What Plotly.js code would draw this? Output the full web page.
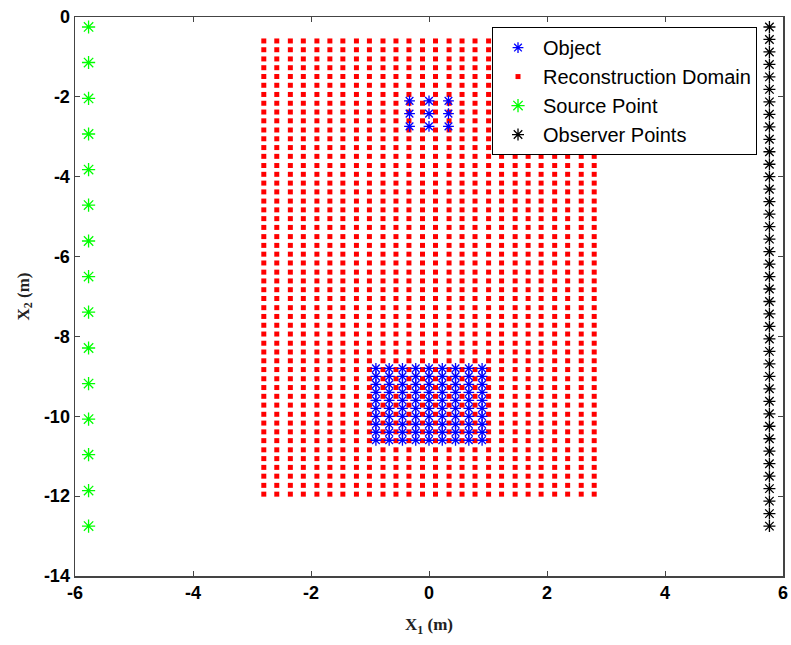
<!DOCTYPE html>
<html>
<head>
<meta charset="utf-8">
<script src="https://cdn.plot.ly/plotly-3.0.1.min.js"></script>
<style>html,body{margin:0;padding:0;background:#fff;}#chart{width:791px;height:645px;}</style>
</head>
<body>
<div id="chart"></div>
<script>
// Reconstruction domain grid (x columns, y rows)
const domainX = [-2.8, -2.58, -2.35, -2.13, -1.9, -1.68, -1.46, -1.23, -1.01, -0.78, -0.56, -0.34, -0.11,
                 0.11, 0.34, 0.56, 0.78, 1.01, 1.23, 1.46, 1.68, 1.9, 2.13, 2.35, 2.58, 2.8];
const domainY = [-0.6, -0.82, -1.05, -1.27, -1.49, -1.71, -1.94, -2.16, -2.38, -2.6, -2.83, -3.05, -3.27,
                 -3.49, -3.72, -3.94, -4.16, -4.38, -4.61, -4.83, -5.05, -5.27, -5.5, -5.72, -5.94, -6.16,
                 -6.39, -6.61, -6.83, -7.05, -7.28, -7.5, -7.72, -7.94, -8.17, -8.39, -8.61, -8.83, -9.06,
                 -9.28, -9.5, -9.72, -9.95, -10.17, -10.39, -10.61, -10.84, -11.06, -11.28, -11.5, -11.73, -11.95];
// Objects: small upper cluster and large lower cluster
const objSmallX = [-0.33, 0, 0.33];
const objSmallY = [-2.1, -2.42, -2.74];
const objLargeX = [-0.9, -0.675, -0.45, -0.225, 0, 0.225, 0.45, 0.675, 0.9];
const objLargeY = [-8.8, -9.0, -9.2, -9.4, -9.6, -9.8, -10.0, -10.2, -10.4, -10.6];
// Source points
const sourceX = -5.77;
const sourceY = [-0.25, -1.14, -2.04, -2.93, -3.82, -4.71, -5.61, -6.5, -7.39, -8.29, -9.18, -10.07, -10.96, -11.86, -12.75];
// Observer points
const observerX = 5.77;
const observerY = [-0.25, -0.5625, -0.875, -1.1875, -1.5, -1.8125, -2.125, -2.4375, -2.75, -3.0625, -3.375,
                   -3.6875, -4, -4.3125, -4.625, -4.9375, -5.25, -5.5625, -5.875, -6.1875, -6.5, -6.8125,
                   -7.125, -7.4375, -7.75, -8.0625, -8.375, -8.6875, -9, -9.3125, -9.625, -9.9375, -10.25,
                   -10.5625, -10.875, -11.1875, -11.5, -11.8125, -12.125, -12.4375, -12.75];
const xTicks = [-6, -4, -2, 0, 2, 4, 6];
const yTicks = [0, -2, -4, -6, -8, -10, -12, -14];

function mesh(xs, ys) {
  const px = [], py = [];
  ys.forEach(y => xs.forEach(x => { px.push(x); py.push(y); }));
  return {x: px, y: py};
}
const dom = mesh(domainX, domainY);
const o1 = mesh(objSmallX, objSmallY);
const o2 = mesh(objLargeX, objLargeY);

const traces = [
  {x: dom.x, y: dom.y, mode: 'markers', type: 'scatter', name: 'Reconstruction Domain', legendrank: 2,
   marker: {symbol: 'square', size: 5, color: '#ff0000'}},
  {x: o1.x.concat(o2.x), y: o1.y.concat(o2.y), mode: 'markers', type: 'scatter', name: 'Object', legendrank: 1,
   marker: {symbol: 'asterisk-open', size: 9, color: '#0000ff', line: {color: '#0000ff', width: 1.3}}},
  {x: sourceY.map(() => sourceX), y: sourceY, mode: 'markers', type: 'scatter', name: 'Source Point', legendrank: 3,
   marker: {symbol: 'asterisk-open', size: 11, color: '#00ff00', line: {color: '#00ff00', width: 1.3}}},
  {x: observerY.map(() => observerX), y: observerY, mode: 'markers', type: 'scatter', name: 'Observer Points', legendrank: 4,
   marker: {symbol: 'asterisk-open', size: 10, color: '#000000', line: {color: '#000000', width: 1.3}}}
];

const axisCommon = {
  showgrid: false, zeroline: false, showline: true, mirror: 'ticks', linecolor: '#444', linewidth: 1.5,
  ticks: 'inside', ticklen: 5, tickcolor: '#444', tickwidth: 1,
  tickfont: {family: 'Liberation Sans, Arial, sans-serif', size: 18, color: '#000', weight: 'bold'}
};

const layout = {
  width: 791, height: 645,
  margin: {l: 75, r: 8, t: 17, b: 69},
  paper_bgcolor: '#fff', plot_bgcolor: '#fff',
  showlegend: true,
  xaxis: Object.assign({}, axisCommon, {
    range: [-6, 6], tickvals: xTicks, ticktext: xTicks.map(String),
    title: {text: 'X<sub>1</sub> (m)', font: {family: 'Liberation Serif, Times New Roman, serif', size: 17, color: '#222', weight: 'bold'}, standoff: 16}
  }),
  yaxis: Object.assign({}, axisCommon, {
    range: [-14, 0], tickvals: yTicks, ticktext: yTicks.map(String),
    title: {text: 'X<sub>2</sub> (m)', font: {family: 'Liberation Serif, Times New Roman, serif', size: 17, color: '#222', weight: 'bold'}, standoff: 10}
  }),
  legend: {
    x: 0.589, y: 0.982, xanchor: 'left', yanchor: 'top',
    bgcolor: '#fff', bordercolor: '#000', borderwidth: 1,
    font: {family: 'Liberation Sans, Arial, sans-serif', size: 20, color: '#000'},
    itemwidth: 40, traceorder: 'normal'
  }
};

Plotly.newPlot('chart', traces, layout, {displayModeBar: false, staticPlot: true});
</script>
</body>
</html>
